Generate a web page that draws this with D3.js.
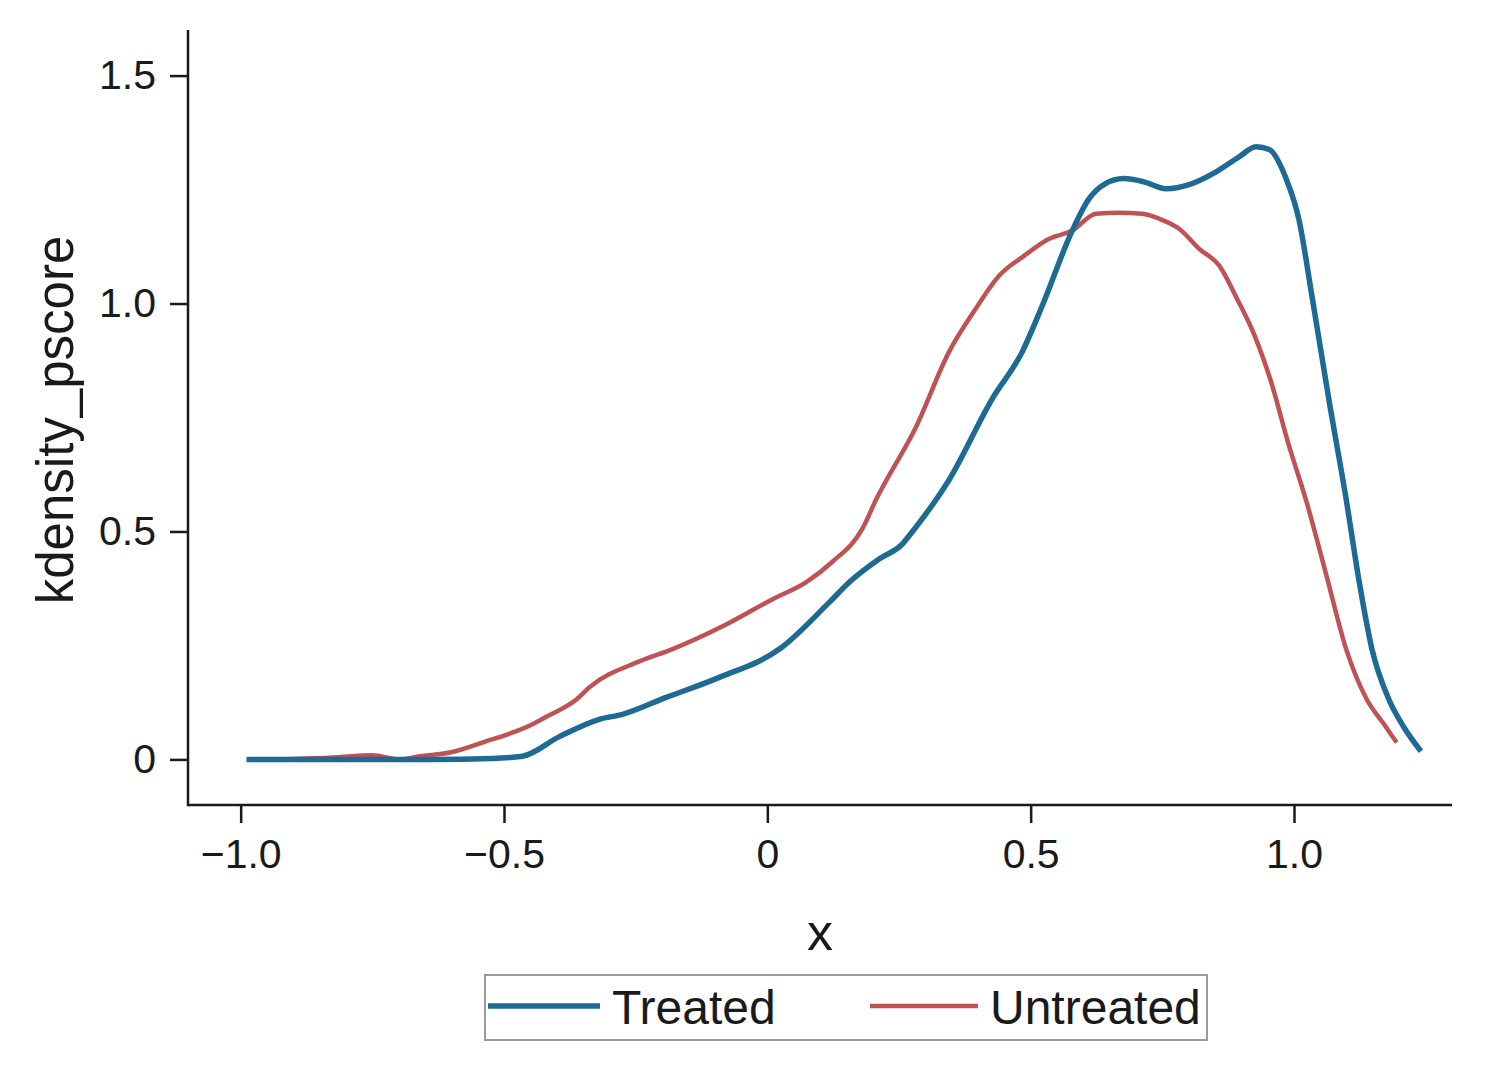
<!DOCTYPE html>
<html>
<head>
  <meta charset="utf-8">
  <title>kdensity pscore</title>
  <script src="https://cdn.jsdelivr.net/npm/d3@7"></script>
  <style>
    body { margin: 0; background: #fff; }
    svg text { font-family: "Liberation Sans", Arial, Helvetica, sans-serif; fill: #1a1a1a; }
    .axis path, .axis line { stroke: #1a1a1a; stroke-width: 2.5; }
    .axis text { font-size: 41px; }
  </style>
</head>
<body>
  <svg id="chart" width="1485" height="1065"></svg>
  <script>
    // kernel density of the propensity score
    var treatedX = [-0.989, -0.913, -0.761, -0.636, -0.522, -0.465, -0.395, -0.319, -0.275, -0.192,
      -0.091, 0.023, 0.118, 0.156, 0.213, 0.256, 0.275, 0.345, 0.427, 0.484,
      0.522, 0.579, 0.611, 0.639, 0.677, 0.715, 0.757, 0.801, 0.852, 0.896,
      0.928, 0.953, 0.985, 1.009, 1.035, 1.066, 1.099, 1.123, 1.148, 1.180, 1.209, 1.241];
    var treatedY = [0, 0, 0, 0, 0.002, 0.007, 0.05, 0.088, 0.099, 0.136,
      0.18, 0.242, 0.345, 0.389, 0.44, 0.472, 0.499, 0.613, 0.791, 0.894,
      0.995, 1.16, 1.23, 1.261, 1.274, 1.267, 1.252, 1.261, 1.289, 1.322,
      1.344, 1.338, 1.274, 1.186, 1.01, 0.791, 0.571, 0.395, 0.242, 0.132, 0.07, 0.018];

    var untreatedX = [-0.917, -0.825, -0.75, -0.698, -0.66, -0.603, -0.541, -0.446, -0.419, -0.362,
      -0.338, -0.243, -0.18, -0.085, 0.009, 0.074, 0.123, 0.18, 0.207, 0.283,
      0.345, 0.393, 0.44, 0.488, 0.535, 0.579, 0.624, 0.668, 0.712, 0.744,
      0.782, 0.82, 0.858, 0.892, 0.924, 0.956, 0.99, 1.023, 1.061, 1.099,
      1.138, 1.171, 1.195];
    var untreatedY = [0, 0.004, 0.009, 0, 0.007, 0.015, 0.037, 0.077, 0.094, 0.132,
      0.158, 0.215, 0.242, 0.292, 0.351, 0.389, 0.433, 0.505, 0.571, 0.731,
      0.894, 0.984, 1.061, 1.105, 1.142, 1.16, 1.197, 1.199, 1.197, 1.186,
      1.164, 1.12, 1.083, 1.01, 0.933, 0.83, 0.69, 0.568, 0.406, 0.242,
      0.132, 0.077, 0.037];

    var xTicks = [-1.0, -0.5, 0, 0.5, 1.0];
    var yTicks = [0, 0.5, 1.0, 1.5];
    var seriesNames = ["Treated", "Untreated"];
    var seriesColors = ["#1d6a94", "#c05255"];

    var svg = d3.select("#chart");
    var plotLeft = 188, plotRight = 1452, plotTop = 30, plotBottom = 805;

    var x = d3.scaleLinear().domain([-1.1, 1.3]).range([plotLeft, plotRight]);
    var y = d3.scaleLinear().domain([-0.1, 1.6]).range([plotBottom, plotTop]);

    function fmt(d) {
      if (d === 0) return "0";
      return (d < 0 ? "\u2212" : "") + Math.abs(d).toFixed(1);
    }

    svg.append("g")
      .attr("class", "axis")
      .attr("transform", "translate(0," + plotBottom + ")")
      .call(d3.axisBottom(x).tickValues(xTicks).tickFormat(fmt).tickSize(18).tickSizeOuter(0).tickPadding(16));

    svg.append("g")
      .attr("class", "axis")
      .attr("transform", "translate(" + plotLeft + ",0)")
      .call(d3.axisLeft(y).tickValues(yTicks).tickFormat(fmt).tickSize(18).tickSizeOuter(0).tickPadding(14));

    // axis lines drawn by hand so they meet in the corner
    svg.selectAll(".axis .domain").remove();
    svg.append("line").attr("x1", plotLeft).attr("x2", plotLeft).attr("y1", plotTop).attr("y2", plotBottom + 1.2)
      .attr("stroke", "#1a1a1a").attr("stroke-width", 2.5);
    svg.append("line").attr("x1", plotLeft).attr("x2", plotRight).attr("y1", plotBottom).attr("y2", plotBottom)
      .attr("stroke", "#1a1a1a").attr("stroke-width", 2.5);

    svg.selectAll(".axis .tick text").attr("fill", "#1a1a1a");

    var line = d3.line()
      .x(function (d) { return x(d[0]); })
      .y(function (d) { return y(d[1]); })
      .curve(d3.curveMonotoneX);

    var series = [
      d3.zip(treatedX, treatedY),
      d3.zip(untreatedX, untreatedY)
    ];
    var widths = [5.5, 4.5];

    // untreated first, treated on top
    [1, 0].forEach(function (i) {
      svg.append("path")
        .datum(series[i])
        .attr("fill", "none")
        .attr("stroke", seriesColors[i])
        .attr("stroke-width", widths[i])
        .attr("stroke-linejoin", "round")
        .attr("d", line);
    });

    // axis titles
    svg.append("text")
      .attr("x", (plotLeft + plotRight) / 2)
      .attr("y", 950)
      .attr("text-anchor", "middle")
      .style("font-size", "52px")
      .text("x");

    svg.append("text")
      .attr("transform", "translate(73,420) rotate(-90)")
      .attr("text-anchor", "middle")
      .style("font-size", "51px")
      .text("kdensity_pscore");

    // legend
    var legend = svg.append("g");
    legend.append("rect")
      .attr("x", 485).attr("y", 975).attr("width", 722).attr("height", 65)
      .attr("fill", "#fff").attr("stroke", "#9a9a9a").attr("stroke-width", 2);

    var legendItems = [
      { x1: 488, x2: 600, tx: 612 },
      { x1: 870, x2: 978, tx: 990 }
    ];
    legendItems.forEach(function (it, i) {
      legend.append("line")
        .attr("x1", it.x1).attr("x2", it.x2).attr("y1", 1006).attr("y2", 1006)
        .attr("stroke", seriesColors[i]).attr("stroke-width", widths[i]);
      legend.append("text")
        .attr("x", it.tx).attr("y", 1024)
        .style("font-size", "48px")
        .text(seriesNames[i]);
    });
  </script>
</body>
</html>
